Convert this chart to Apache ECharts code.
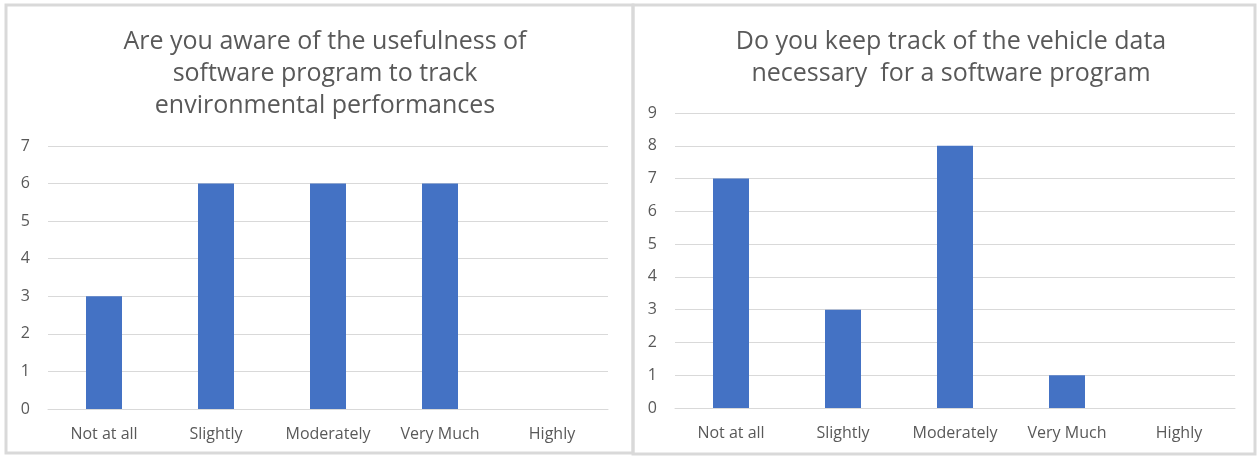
<!DOCTYPE html>
<html>
<head>
<meta charset="utf-8">
<style>
  html, body { margin: 0; padding: 0; background: #ffffff; }
  #chart { width: 1257px; height: 456px; }
</style>
<script src="https://cdn.jsdelivr.net/npm/echarts@6/dist/echarts.min.js"></script>
</head>
<body>
<div id="chart"></div>
<script>
// Answer categories shared by both survey questions
const categories = ['Not at all', 'Slightly', 'Moderately', 'Very Much', 'Highly'];

// Responses: awareness of software usefulness for environmental tracking
const awarenessCounts = [3, 6, 6, 6, 0];
// Responses: keeping track of vehicle data for a software program
const trackingCounts = [7, 3, 8, 1, 0];

const leftTitle = 'Are you aware of the usefulness of\nsoftware program to track\nenvironmental performances';
const rightTitle = 'Do you keep track of the vehicle data\nnecessary  for a software program';

const FONT = 'Open Sans';
const TEXT = '#595959';
const GRID = '#d9d9d9';
const BAR = '#4472c4';

const chart = echarts.init(document.getElementById('chart'), null, { renderer: 'canvas' });

function xAxis(gridIndex) {
  return {
    type: 'category', gridIndex, data: categories,
    axisLine: { show: true, lineStyle: { color: GRID, width: 1 } },
    axisTick: { show: false },
    axisLabel: { color: TEXT, fontFamily: FONT, fontSize: 16, margin: 17,
                 interval: 0, hideOverlap: false }
  };
}
function yAxis(gridIndex, max) {
  return {
    type: 'value', gridIndex, min: 0, max, interval: 1,
    axisLine: { show: false }, axisTick: { show: false },
    splitLine: { lineStyle: { color: GRID, width: 1 } },
    axisLabel: { color: TEXT, fontFamily: FONT, fontSize: 16, margin: 18 }
  };
}
function bars(idx, data) {
  return {
    type: 'bar', xAxisIndex: idx, yAxisIndex: idx, data,
    barWidth: 36, itemStyle: { color: BAR }, silent: true
  };
}

const titleStyle = { color: TEXT, fontFamily: FONT, fontSize: 25, fontWeight: 'normal', lineHeight: 32 };

chart.setOption({
  animation: false,
  backgroundColor: '#ffffff',
  title: [
    { text: leftTitle, left: 320, top: 21, textAlign: 'center', textStyle: titleStyle },
    { text: rightTitle, left: 946, top: 21, textAlign: 'center', textStyle: titleStyle }
  ],
  graphic: [
    { type: 'rect', shape: { x: 6, y: 5, width: 627, height: 448 },
      style: { fill: 'none', stroke: GRID, lineWidth: 3 }, silent: true },
    { type: 'rect', shape: { x: 633, y: 5, width: 622, height: 449 },
      style: { fill: 'none', stroke: GRID, lineWidth: 3 }, silent: true }
  ],
  grid: [
    { left: 48, top: 146, width: 560, height: 263 },
    { left: 675, top: 113, width: 560, height: 295 }
  ],
  xAxis: [xAxis(0), xAxis(1)],
  yAxis: [yAxis(0, 7), yAxis(1, 9)],
  series: [bars(0, awarenessCounts), bars(1, trackingCounts)]
});
</script>
</body>
</html>
